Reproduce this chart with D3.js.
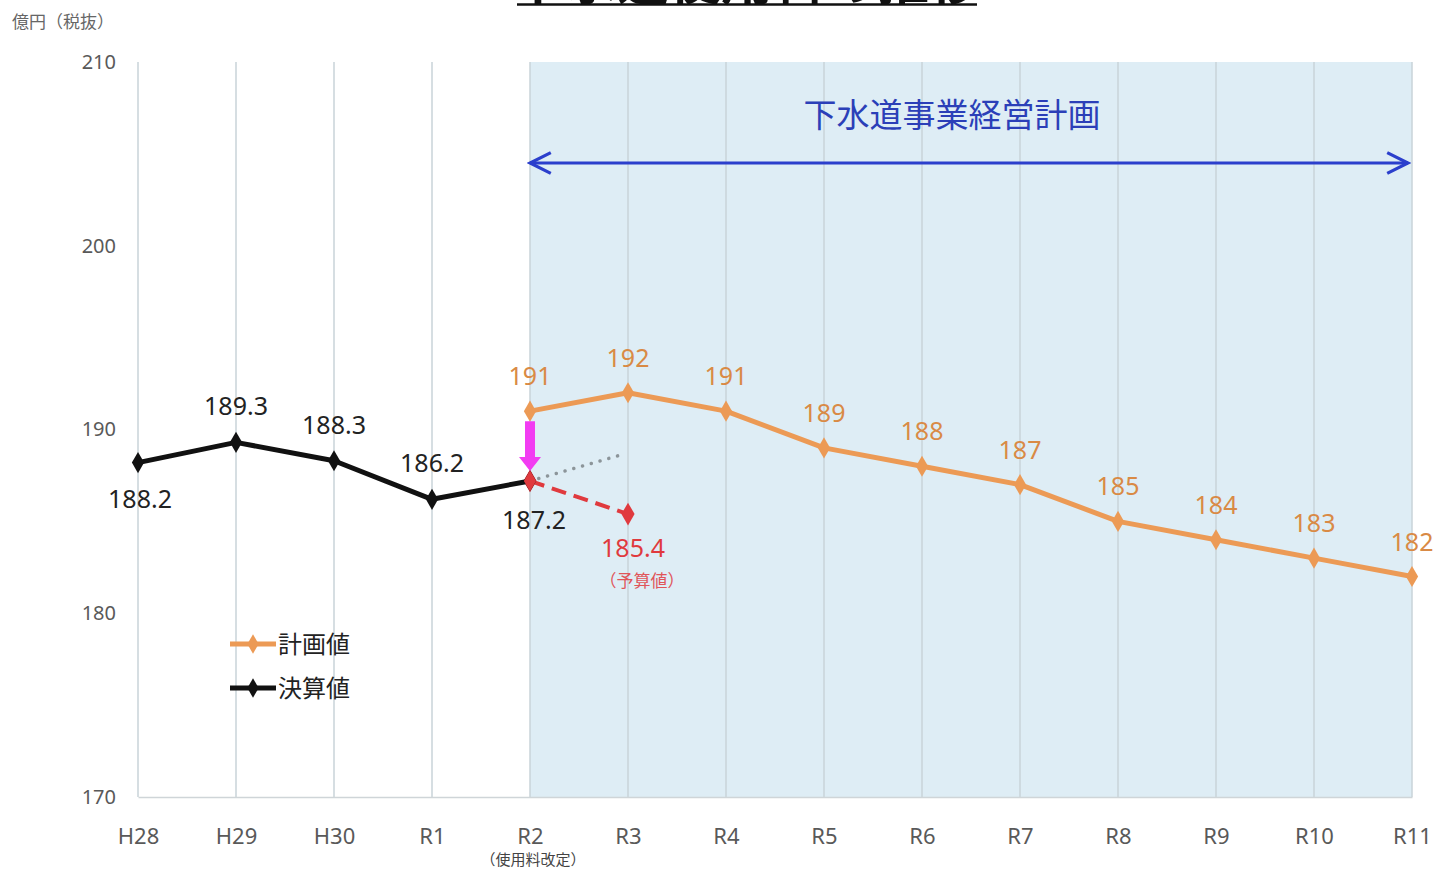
<!DOCTYPE html>
<html><head><meta charset="utf-8">
<script src="https://cdn.jsdelivr.net/npm/d3@7/dist/d3.min.js"></script>
<style>
html,body{margin:0;padding:0;background:#fff;}
svg{display:block;font-family:"Noto Sans CJK JP","Noto Sans",sans-serif;}
</style></head>
<body>
<svg id="chart" width="1437" height="869"></svg>
<script>
// Fiscal years on the x axis
const years = ["H28","H29","H30","R1","R2","R3","R4","R5","R6","R7","R8","R9","R10","R11"];
// Actual results (決算値)
const actualYears = ["H28","H29","H30","R1","R2"];
const actualValues = [188.2, 189.3, 188.3, 186.2, 187.2];
// Business plan values (計画値)
const planYears = ["R2","R3","R4","R5","R6","R7","R8","R9","R10","R11"];
const planValues = [191, 192, 191, 189, 188, 187, 185, 184, 183, 182];
// Budget estimate after the fee revision (予算値)
const budgetYears = ["R2","R3"];
const budgetValues = [187.2, 185.4];
// Trend without the revision (dotted)
const trendYears = ["R2","R3"];
const trendValues = [187.2, 188.6];
const yTicks = [170, 180, 190, 200, 210];

const svg = d3.select("#chart");
const x = d3.scalePoint().domain(years).range([138, 1412]);
const y = d3.scaleLinear().domain([170, 210]).range([797, 62]);

const orange = "#ec9a55", orangeText = "#d98a45", black = "#111", red = "#e03a3e";
const numFont = "'Noto Sans','Noto Sans CJK JP',sans-serif";

// Title, running off the top edge of the page
svg.append("text").attr("x", 747).attr("y", 0).attr("text-anchor", "middle")
  .attr("font-size", 52).attr("font-weight", "bold").attr("fill", "#111").text("下水道使用料の推移");
svg.append("line").attr("x1", 517).attr("x2", 977).attr("y1", 4.5).attr("y2", 4.5)
  .attr("stroke", "#111").attr("stroke-width", 2.5);

// Shaded plan period
svg.append("rect").attr("x", x("R2")).attr("y", y(210)).attr("width", x("R11") - x("R2"))
  .attr("height", y(170) - y(210)).attr("fill", "#deedf5");

// Vertical gridlines
svg.append("g").selectAll("line").data(years).join("line")
  .attr("x1", d => x(d)).attr("x2", d => x(d)).attr("y1", y(210)).attr("y2", y(170))
  .attr("stroke", "#c9d3d9").attr("stroke-width", 1.5);

// Y axis labels
const yAxis = svg.append("g").attr("transform", "translate(122,0)")
  .call(d3.axisLeft(y).tickValues(yTicks).tickSize(0).tickPadding(6));
yAxis.select(".domain").remove();
yAxis.selectAll("text").attr("font-size", 20).attr("fill", "#595959").attr("font-family", numFont);

// X axis
const xAxis = svg.append("g").attr("transform", `translate(0,${y(170)})`)
  .call(d3.axisBottom(x).tickSize(0).tickPadding(31));
xAxis.select(".domain").attr("stroke", "#cfd5d8").attr("stroke-width", 1.5);
xAxis.selectAll("text").attr("font-size", 22).attr("fill", "#595959").attr("font-family", numFont);
svg.append("text").attr("x", x("R2") + 3).attr("y", 865).attr("text-anchor", "middle")
  .attr("font-size", 15).attr("fill", "#444").text("（使用料改定）");

// Unit label
svg.append("text").attr("x", 12).attr("y", 28).attr("font-size", 17).attr("fill", "#666").text("億円（税抜）");

// Plan range arrow and caption
const defs = svg.append("defs");
["start", "end"].forEach(k => {
  defs.append("marker").attr("id", "open-" + k).attr("viewBox", "0 0 20 20")
    .attr("refX", 18).attr("refY", 10).attr("markerWidth", 26).attr("markerHeight", 26)
    .attr("markerUnits", "userSpaceOnUse").attr("orient", "auto-start-reverse")
    .append("path").attr("d", "M2,2 L18,10 L2,18").attr("fill", "none")
    .attr("stroke", "#2b3fcc").attr("stroke-width", 2.5);
});
svg.append("line").attr("x1", x("R2")).attr("x2", x("R11") - 4).attr("y1", 163).attr("y2", 163)
  .attr("stroke", "#2b3fcc").attr("stroke-width", 3)
  .attr("marker-start", "url(#open-start)").attr("marker-end", "url(#open-end)");
svg.append("text").attr("x", 952).attr("y", 127).attr("text-anchor", "middle")
  .attr("font-size", 33).attr("fill", "#2b3fb8").text("下水道事業経営計画");

const line = d3.line().x(d => x(d[0])).y(d => y(d[1]));
const zip = (a, b) => a.map((d, i) => [d, b[i]]);

// Trend (dotted gray)
svg.append("path").datum(zip(trendYears, trendValues))
  .attr("d", d3.line().x((d, i) => x(d[0]) - i * 8).y(d => y(d[1])))
  .attr("fill", "none").attr("stroke", "#8c959a").attr("stroke-width", 3.5)
  .attr("stroke-dasharray", "0.1 9").attr("stroke-linecap", "round");

// Budget (dashed red)
const budget = zip(budgetYears, budgetValues);
svg.append("path").datum(budget).attr("d", line).attr("fill", "none")
  .attr("stroke", red).attr("stroke-width", 4).attr("stroke-dasharray", "15 8");
svg.append("g").selectAll("path").data(budget).join("path")
  .attr("transform", d => `translate(${x(d[0])},${y(d[1])})`)
  .attr("d", d3.symbol().type(d3.symbolDiamond).size(150)).attr("fill", red);

// Plan line
const plan = zip(planYears, planValues);
svg.append("path").datum(plan).attr("d", line).attr("fill", "none")
  .attr("stroke", orange).attr("stroke-width", 5).attr("stroke-linejoin", "round");
svg.append("g").selectAll("path").data(plan).join("path")
  .attr("transform", d => `translate(${x(d[0])},${y(d[1])})`)
  .attr("d", d3.symbol().type(d3.symbolDiamond).size(130)).attr("fill", orange);

// Actual line
const actual = zip(actualYears, actualValues);
svg.append("path").datum(actual).attr("d", line).attr("fill", "none")
  .attr("stroke", black).attr("stroke-width", 5).attr("stroke-linejoin", "round");
svg.append("g").selectAll("path").data(actual).join("path")
  .attr("transform", d => `translate(${x(d[0])},${y(d[1])})`)
  .attr("d", d3.symbol().type(d3.symbolDiamond).size(130)).attr("fill", black);
// R2 actual marker sits on the red series
svg.append("path").attr("transform", `translate(${x("R2")},${y(actualValues[4])})`)
  .attr("d", d3.symbol().type(d3.symbolDiamond).size(130)).attr("fill", red);

// Magenta arrow: plan value down to actual at R2
const ax = x("R2"), ay0 = y(planValues[0]) + 10, ay1 = y(actualValues[4]) - 10;
svg.append("path")
  .attr("d", `M${ax - 5},${ay0} L${ax + 5},${ay0} L${ax + 5},${ay1 - 14} L${ax + 11},${ay1 - 14} L${ax},${ay1} L${ax - 11},${ay1 - 14} L${ax - 5},${ay1 - 14} Z`)
  .attr("fill", "#f23cf2");

// Value labels
const actualOffsets = [[2, 45], [0, -27], [0, -27], [0, -27], [4, 48]];
svg.append("g").selectAll("text").data(actual).join("text")
  .attr("x", (d, i) => x(d[0]) + actualOffsets[i][0]).attr("y", (d, i) => y(d[1]) + actualOffsets[i][1])
  .attr("text-anchor", "middle").attr("font-size", 25).attr("fill", "#222").attr("font-family", numFont)
  .text(d => d[1].toFixed(1));
svg.append("g").selectAll("text").data(plan).join("text")
  .attr("x", d => x(d[0])).attr("y", d => y(d[1]) - 26)
  .attr("text-anchor", "middle").attr("font-size", 25).attr("fill", orangeText).attr("font-family", numFont)
  .text(d => d[1]);
svg.append("text").attr("x", x("R3") + 5).attr("y", y(budgetValues[1]) + 43).attr("text-anchor", "middle")
  .attr("font-size", 25).attr("fill", red).attr("font-family", numFont).text(budgetValues[1].toFixed(1));
svg.append("text").attr("x", x("R3") + 14).attr("y", y(budgetValues[1]) + 73).attr("text-anchor", "middle")
  .attr("font-size", 17).attr("fill", "#e0555a").text("（予算値）");

// Legend
const legend = [["計画値", orange], ["決算値", black]];
const lg = svg.append("g").selectAll("g").data(legend).join("g")
  .attr("transform", (d, i) => `translate(230,${644 + i * 44})`);
lg.append("line").attr("x1", 0).attr("x2", 46).attr("stroke", d => d[1]).attr("stroke-width", 5);
lg.append("path").attr("transform", "translate(23,0)")
  .attr("d", d3.symbol().type(d3.symbolDiamond).size(110)).attr("fill", d => d[1]);
lg.append("text").attr("x", 48).attr("y", 9).attr("font-size", 24).attr("fill", "#222").text(d => d[0]);
</script>
</body></html>
